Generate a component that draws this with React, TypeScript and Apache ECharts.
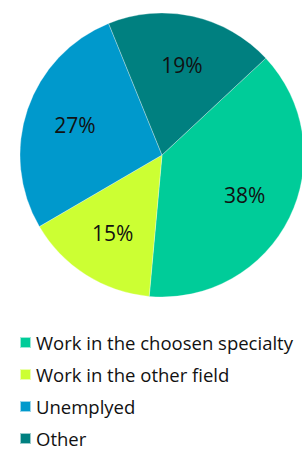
import React, { useEffect, useRef } from "react";
import * as echarts from "echarts";

const categories = [
  "Work in the choosen specialty",
  "Work in the other field",
  "Unemplyed",
  "Other",
];
const values = [38, 15, 27, 19];
const colors = ["#00CC99", "#CCFF33", "#0099CC", "#008080"];

export default function App() {
  const ref = useRef<HTMLDivElement>(null);
  useEffect(() => {
    if (!ref.current) return;
    const chart = echarts.init(ref.current, null, { renderer: "svg" });
    const data = categories.map((name, i) => ({
      name,
      value: values[i],
      itemStyle: { color: colors[i] },
    }));
    chart.setOption({
      animation: false,
      legend: {
        type: "plain",
        orient: "vertical",
        left: 19,
        top: 333,
        height: 160,
        padding: 0,
        icon: "rect",
        itemWidth: 11,
        itemHeight: 11,
        itemGap: 13,
        data: categories,
        textStyle: { fontFamily: "Open Sans", fontSize: 18.5, color: "#111", lineHeight: 18 },
        selectedMode: false,
      },
      series: [
        {
          type: "pie",
          center: [162, 155],
          radius: [0, 142],
          startAngle: 43,
          clockwise: true,
          silent: true,
          label: { show: false },
          labelLine: { show: false },
          itemStyle: { borderColor: "rgba(255,255,255,0.6)", borderWidth: 0.5 },
          data,
        },
        {
          type: "pie",
          center: [162, 155],
          radius: [0, 178],
          startAngle: 43,
          clockwise: true,
          silent: true,
          legendHoverLink: false,
          itemStyle: { color: "transparent" },
          label: {
            show: true,
            position: "inside",
            formatter: "{c}%",
            fontFamily: "Open Sans",
            fontSize: 21,
            color: "#111",
          },
          labelLine: { show: false },
          data: categories.map((name, i) => ({ name, value: values[i] })),
        },
      ],
    });
    return () => chart.dispose();
  }, []);
  return (
    <div
      ref={ref}
      style={{ position: "fixed", left: 0, top: 0, width: 302, height: 449, background: "#fff" }}
    />
  );
}
